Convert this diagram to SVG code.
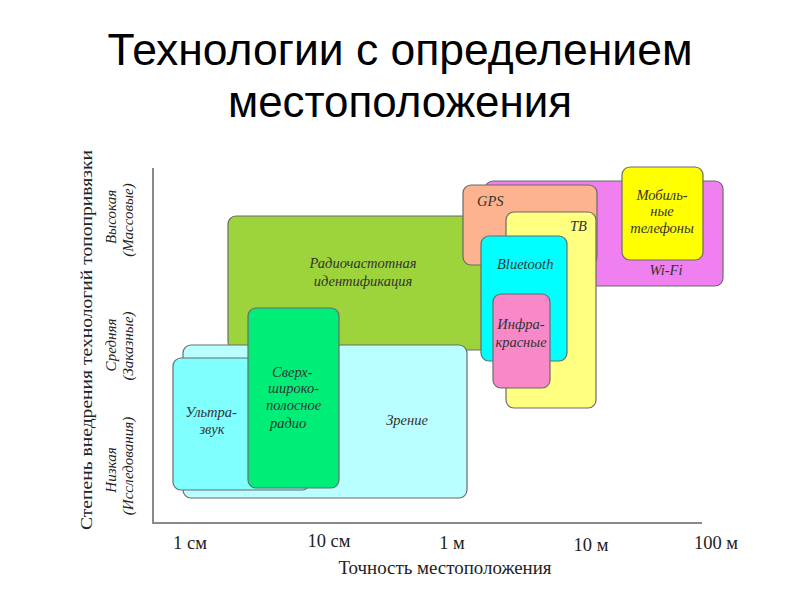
<svg xmlns="http://www.w3.org/2000/svg" width="800" height="600" viewBox="0 0 800 600">
<style>
.box{stroke:#6b6b6b;stroke-width:1.2}
.lbl{font-family:"Liberation Serif","Times New Roman",serif;font-style:italic;font-size:14.5px;fill:#333}
.ax{font-family:"Liberation Serif","Times New Roman",serif;fill:#222}
.title{font-family:"Liberation Sans",Arial,sans-serif;font-size:45px;fill:#000;text-anchor:middle}
.c{text-anchor:middle}
</style>
<rect width="800" height="600" fill="#fff"/>
<g id="title">
<text class="title" x="400" y="65" textLength="585" lengthAdjust="spacingAndGlyphs">Технологии с определением</text>
<text class="title" x="400" y="117" textLength="344" lengthAdjust="spacingAndGlyphs">местоположения</text>
</g>
<g id="axes" stroke="#8a8a8a" stroke-width="2" fill="none">
<line x1="153" y1="168" x2="153" y2="523"/>
<line x1="152" y1="523" x2="702" y2="523"/>
</g>
<g id="axis-labels">
<text class="ax c" font-size="17" transform="translate(92,340) rotate(-90)" textLength="380" lengthAdjust="spacingAndGlyphs">Степень внедрения технологий топопривязки</text>
<g font-style="italic" font-size="15">
<text class="ax c" transform="translate(116,217) rotate(-90)">Высокая</text>
<text class="ax c" transform="translate(133,220) rotate(-90)">(Массовые)</text>
<text class="ax c" transform="translate(116,345) rotate(-90)">Средняя</text>
<text class="ax c" transform="translate(133,346) rotate(-90)">(Заказные)</text>
<text class="ax c" transform="translate(116,470) rotate(-90)">Низкая</text>
<text class="ax c" transform="translate(133,466) rotate(-90)">(Исследования)</text>
</g>
<g font-size="18.5">
<text class="ax c" x="190" y="549">1 см</text>
<text class="ax c" x="329" y="547">10 см</text>
<text class="ax c" x="452" y="549">1 м</text>
<text class="ax c" x="591" y="551">10 м</text>
<text class="ax c" x="716" y="549">100 м</text>
</g>
<text class="ax c" x="445" y="574" font-size="18" textLength="213" lengthAdjust="spacingAndGlyphs">Точность местоположения</text>
</g>
<g id="rfid">
<rect class="box" x="228" y="216" width="265" height="134" rx="8" fill="#9dd43c"/>
<text class="lbl c" x="363" y="268">Радиочастотная</text>
<text class="lbl c" x="363" y="286">идентификация</text>
</g>
<g id="vision">
<rect class="box" x="183" y="345" width="284" height="153" rx="8" fill="#b9ffff"/>
<text class="lbl c" x="407" y="425">Зрение</text>
</g>
<g id="ultrasound">
<rect class="box" x="173" y="358" width="137" height="132" rx="8" fill="#80ffff"/>
<text class="lbl c" x="211" y="417">Ультра-</text>
<text class="lbl c" x="212" y="434">звук</text>
</g>
<g id="uwb">
<rect class="box" x="248" y="308" width="91" height="180" rx="8" fill="#00ee78"/>
<text class="lbl" x="272" y="377">Сверх-</text>
<text class="lbl" x="268" y="393">широко-</text>
<text class="lbl" x="266" y="410">полосное</text>
<text class="lbl" x="270" y="428">радио</text>
</g>
<g id="wifi">
<rect class="box" x="485" y="181" width="238" height="105" rx="8" fill="#f080f0"/>
<text class="lbl c" x="666" y="275">Wi-Fi</text>
</g>
<g id="mobile">
<rect class="box" x="622" y="167" width="81" height="93" rx="8" fill="#ffff00"/>
<text class="lbl c" x="662" y="200">Мобиль-</text>
<text class="lbl c" x="662" y="216">ные</text>
<text class="lbl c" x="662" y="233">телефоны</text>
</g>
<g id="gps">
<rect class="box" x="463" y="185" width="134" height="80" rx="8" fill="#fdb290"/>
<text class="lbl" x="477" y="206">GPS</text>
</g>
<g id="tv">
<rect class="box" x="506" y="212" width="90" height="196" rx="8" fill="#ffff80"/>
<text class="lbl" x="570" y="231">ТВ</text>
</g>
<g id="bluetooth">
<rect class="box" x="481" y="236" width="86" height="125" rx="8" fill="#00ffff"/>
<text class="lbl" x="497" y="269">Bluetooth</text>
</g>
<g id="infrared">
<rect class="box" x="493" y="294" width="57" height="94" rx="8" fill="#f988c8"/>
<text class="lbl c" x="521" y="329">Инфра-</text>
<text class="lbl c" x="521" y="347">красные</text>
</g>
</svg>
